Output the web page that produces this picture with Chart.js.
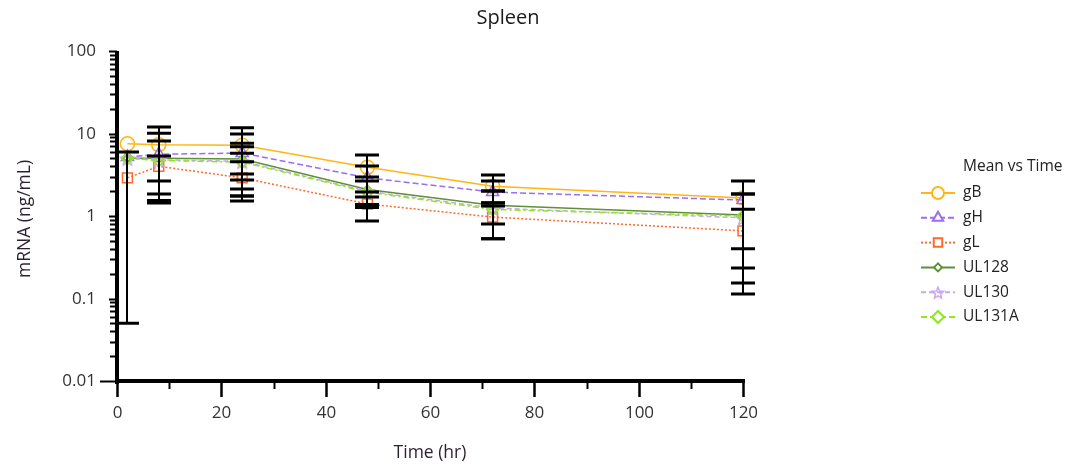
<!DOCTYPE html>
<html>
<head>
<meta charset="utf-8">
<script src="https://cdn.jsdelivr.net/npm/chart.js@4/dist/chart.umd.min.js"></script>
<style>
  body { margin: 0; background: #fff; }
  #wrap { width: 1072px; height: 470px; }
</style>
</head>
<body>
<div id="wrap"><canvas id="spleenChart" width="1072" height="470"></canvas></div>
<script>
// sampling times (hr)
const times = [2, 8, 24, 48, 72, 120];

// mean mRNA (ng/mL)
const gB     = [7.5, 7.3, 7.2, 3.9, 2.3, 1.65];
const gH     = [5.2, 5.6, 5.8, 2.9, 1.95, 1.56];
const gL     = [2.9, 4.0, 2.9, 1.4, 0.97, 0.66];
const UL128  = [5.0, 5.0, 4.9, 2.1, 1.35, 1.03];
const UL130  = [5.0, 4.8, 4.6, 2.0, 1.25, 0.95];
const UL131A = [5.0, 4.7, 4.5, 1.95, 1.2, 1.0];

// error bar ends (null = no bar)
const gBHigh     = [null, 12.0, 11.7, 5.49, 3.14, null];
const gBLow      = [null, 1.44, 2.73, 1.70, 1.44, null];
const gHHigh     = [null, 10.1, 9.87, 4.04, 2.66, 2.66];
const gHLow      = [null, 1.54, 1.75, 1.38, 1.32, 0.40];
const gLHigh     = [5.95, 5.34, 4.54, 1.95, 1.45, 1.21];
const gLLow      = [0.05, 2.66, 1.52, 0.87, 0.53, 0.113];
const UL128High  = [null, 8.1, 7.6, 2.97, 2.01, 1.85];
const UL128Low   = [null, 1.85, 2.12, 1.27, 0.53, 0.234];
const UL130High  = [null, null, 6.9, 2.65, null, null];
const UL130Low   = [null, null, 1.75, 1.32, null, null];
const UL131AHigh = [null, null, 5.77, null, 2.01, 1.85];
const UL131ALow  = [null, null, 3.23, null, 0.80, 0.154];

// axis ticks
const yTickLabels = [100, 10, 1, 0.1, 0.01];
const xTickLabels = [0, 20, 40, 60, 80, 100, 120];

const FONT = '"Open Sans", "Noto Sans", sans-serif';

// hollow 5-point star for UL130 (chart.js 'star' is an asterisk)
function makeStar(color, r) {
  const c = document.createElement('canvas');
  const s = Math.ceil(r * 2 + 4);
  c.width = s; c.height = s;
  const g = c.getContext('2d');
  g.strokeStyle = color;
  g.lineWidth = 1.5;
  g.beginPath();
  for (let i = 0; i < 10; i++) {
    const rr = i % 2 === 0 ? r : r * 0.45;
    const ang = -Math.PI / 2 + i * Math.PI / 5;
    const px = s / 2 + rr * Math.cos(ang), py = s / 2 + 1 + rr * Math.sin(ang);
    if (i === 0) g.moveTo(px, py); else g.lineTo(px, py);
  }
  g.closePath();
  g.stroke();
  return c;
}
const starImg = makeStar('#c9a6f2', 7);
const starLegend = makeStar('#c9a6f2', 6);

function pts(vals) {
  return times.map((t, i) => ({ x: t, y: vals[i] }));
}

function series(label, vals, hi, lo, color, dash, style, radius) {
  return {
    label: label,
    data: pts(vals),
    errHigh: hi,
    errLow: lo,
    borderColor: color,
    borderWidth: 1.5,
    borderDash: dash,
    pointStyle: style,
    pointRadius: radius,
    pointBorderColor: color,
    pointBorderWidth: 1.5,
    pointBackgroundColor: 'rgba(255,255,255,0)',
    fill: false,
    tension: 0
  };
}

const datasets = [
  series('UL131A', UL131A, UL131AHigh, UL131ALow, '#8fe81a', [6, 3, 2, 3], 'rectRot', 6),
  series('UL130', UL130, UL130High, UL130Low, '#c9a6f2', [5, 3], starImg, 7),
  series('UL128', UL128, UL128High, UL128Low, '#5f8f36', [], 'rectRot', 4),
  series('gL', gL, gLHigh, gLLow, '#ff6a2b', [2, 2], 'rect', 7),
  series('gH', gH, gHHigh, gHLow, '#9b6cf5', [6, 3], 'triangle', 7),
  series('gB', gB, gBHigh, gBLow, '#ffb612', [], 'circle', 7)
];

const decor = {
  id: 'decor',
  afterDatasetsDraw(chart) {
    const ctx = chart.ctx;
    const xs = chart.scales.x, ys = chart.scales.y;
    ctx.save();
    ctx.strokeStyle = '#000';
    chart.data.datasets.forEach(ds => {
      times.forEach((t, i) => {
        const hi = ds.errHigh[i], lo = ds.errLow[i];
        if (hi == null || lo == null) return;
        const px = Math.round(xs.getPixelForValue(t));
        const yh = ys.getPixelForValue(hi), yl = ys.getPixelForValue(lo);
        ctx.lineWidth = 2;
        ctx.beginPath(); ctx.moveTo(px, yh); ctx.lineTo(px, yl); ctx.stroke();
        ctx.lineWidth = 3;
        ctx.beginPath();
        ctx.moveTo(px - 12, yh); ctx.lineTo(px + 12, yh);
        ctx.moveTo(px - 12, yl); ctx.lineTo(px + 12, yl);
        ctx.stroke();
      });
    });
    ctx.restore();
  },
  afterDraw(chart) {
    const ctx = chart.ctx;
    const xs = chart.scales.x, ys = chart.scales.y;
    const a = chart.chartArea;
    ctx.save();
    ctx.strokeStyle = '#000';
    ctx.fillStyle = '#333';

    // y axis + ticks
    ctx.lineWidth = 4;
    ctx.beginPath(); ctx.moveTo(a.left, a.top); ctx.lineTo(a.left, a.bottom + 3); ctx.stroke();
    ctx.lineWidth = 2;
    for (let d = -2; d < 2; d++) {
      for (let m = 2; m <= 9; m++) {
        const py = Math.round(ys.getPixelForValue(m * Math.pow(10, d))) + 0.5;
        ctx.beginPath(); ctx.moveTo(a.left - 7, py); ctx.lineTo(a.left, py); ctx.stroke();
      }
    }
    ctx.font = '17px ' + FONT;
    ctx.textAlign = 'right';
    ctx.textBaseline = 'middle';
    yTickLabels.forEach(v => {
      const py = Math.round(ys.getPixelForValue(v)) + 0.5;
      const len = v === 0.01 ? 17 : 8;
      ctx.beginPath(); ctx.moveTo(a.left - len, py); ctx.lineTo(a.left, py); ctx.stroke();
      ctx.fillText(String(v), a.left - 21, py);
    });

    // x axis + ticks
    ctx.lineWidth = 4;
    ctx.beginPath(); ctx.moveTo(a.left - 2, a.bottom); ctx.lineTo(a.right + 2, a.bottom); ctx.stroke();
    ctx.lineWidth = 2;
    for (let t = 10; t < 120; t += 20) {
      const px = Math.round(xs.getPixelForValue(t)) + 0.5;
      ctx.beginPath(); ctx.moveTo(px, a.bottom); ctx.lineTo(px, a.bottom + 8); ctx.stroke();
    }
    ctx.textAlign = 'center';
    xTickLabels.forEach(v => {
      const px = Math.round(xs.getPixelForValue(v)) + 0.5;
      ctx.lineWidth = 2.5;
      ctx.beginPath(); ctx.moveTo(px, a.bottom); ctx.lineTo(px, a.bottom + 16); ctx.stroke();
      ctx.fillText(String(v), px, a.bottom + 32);
    });

    // titles
    ctx.fillStyle = '#1a1a1a';
    ctx.font = '20px ' + FONT;
    ctx.fillText('Spleen', 508, 18);
    ctx.fillStyle = '#2a1f33';
    ctx.font = '17.5px ' + FONT;
    ctx.fillText('Time (hr)', 430, 453);
    ctx.save();
    ctx.translate(25, 219);
    ctx.rotate(-Math.PI / 2);
    ctx.fillText('mRNA (ng/mL)', 0, 0);
    ctx.restore();

    // legend
    ctx.fillStyle = '#222';
    ctx.textAlign = 'left';
    ctx.font = '15.5px ' + FONT;
    ctx.fillText('Mean vs Time', 963, 167);
    const order = ['gB', 'gH', 'gL', 'UL128', 'UL130', 'UL131A'];
    order.forEach((name, k) => {
      const ds = chart.data.datasets.find(d => d.label === name);
      const y = 193 + k * 24.8;
      ctx.strokeStyle = ds.borderColor;
      ctx.lineWidth = 2;
      ctx.setLineDash(ds.borderDash);
      ctx.beginPath(); ctx.moveTo(921, y); ctx.lineTo(955, y); ctx.stroke();
      ctx.setLineDash([]);
      ctx.save();
      ctx.fillStyle = '#fff';
      Chart.helpers.drawPoint(ctx, {
        pointStyle: name === 'UL130' ? starLegend : ds.pointStyle,
        radius: Math.min(ds.pointRadius, 6),
        borderWidth: 1.5
      }, 938, y);
      ctx.restore();
      ctx.fillStyle = '#222';
      ctx.fillText(name, 963, y);
    });
    ctx.restore();
  }
};

new Chart(document.getElementById('spleenChart').getContext('2d'), {
  type: 'line',
  data: { datasets: datasets },
  options: {
    responsive: false,
    animation: false,
    devicePixelRatio: 1,
    layout: { padding: { left: 117, right: 329, top: 51, bottom: 89 } },
    scales: {
      x: { type: 'linear', min: 0, max: 120, display: false },
      y: { type: 'logarithmic', min: 0.01, max: 100, display: false }
    },
    plugins: {
      legend: { display: false },
      title: { display: false },
      tooltip: { enabled: false }
    }
  },
  plugins: [decor]
});
</script>
</body>
</html>
